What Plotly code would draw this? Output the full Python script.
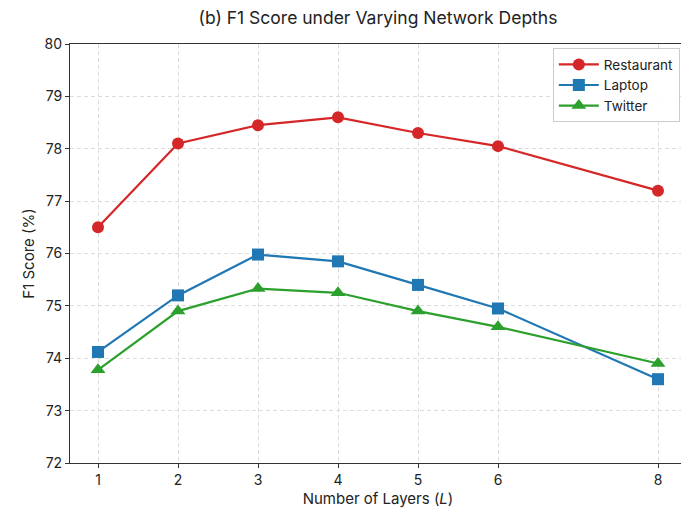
import plotly.graph_objects as go

layers = [1, 2, 3, 4, 5, 6, 8]
restaurant = [76.5, 78.1, 78.45, 78.6, 78.3, 78.05, 77.2]
laptop = [74.12, 75.2, 75.98, 75.85, 75.4, 74.95, 73.6]
twitter = [73.78, 74.9, 75.33, 75.25, 74.9, 74.6, 73.9]

series = [
    ("Restaurant", restaurant, "#d62728", "circle", 12),
    ("Laptop", laptop, "#1f77b4", "square", 12),
    ("Twitter", twitter, "#2ca02c", "triangle-up", 13),
]

fig = go.Figure()
for name, vals, color, sym, sz in series:
    fig.add_trace(go.Scatter(
        x=layers, y=vals, name=name, mode="lines+markers",
        line=dict(color=color, width=2.2),
        marker=dict(symbol=sym, size=sz, color=color, line=dict(width=0)),
    ))

font = "Inter, Open Sans, sans-serif"
fig.update_layout(
    width=681, height=506,
    margin=dict(l=62, r=3, t=36, b=51),
    paper_bgcolor="white", plot_bgcolor="white",
    font=dict(family=font, size=14, color="#222"),
    title=dict(text="(b) F1 Score under Varying Network Depths", x=0.5, xref="paper",
               xanchor="center", y=0.993, yref="container", yanchor="top",
               pad=dict(t=0, b=0, l=0, r=0),
               font=dict(size=17.5, color="#222")),
    legend=dict(x=0.99, y=0.99, xanchor="right", yanchor="top",
                bordercolor="#cccccc", borderwidth=1, bgcolor="rgba(255,255,255,0.9)",
                font=dict(size=13.5), itemwidth=40, tracegroupgap=0),
)
fig.update_xaxes(
    range=[0.65, 8.35], tickvals=layers, ticktext=[str(v) for v in layers],
    showline=True, linecolor="#333", linewidth=1.2, mirror=True,
    ticks="outside", ticklen=4, tickcolor="#333",
    showgrid=True, gridcolor="#dcdcdc", griddash="4px,3px", gridwidth=1,
    zeroline=False, tickfont=dict(size=14), automargin=False,
    title=dict(text="Number of Layers (<i>L</i>)", font=dict(size=15), standoff=6),
)
fig.update_yaxes(
    range=[72, 80], dtick=1,
    showline=True, linecolor="#333", linewidth=1.2, mirror=True,
    ticks="outside", ticklen=4, tickcolor="#333",
    showgrid=True, gridcolor="#dcdcdc", griddash="4px,3px", gridwidth=1,
    zeroline=False, tickfont=dict(size=14), automargin=False,
    title=dict(text="F1 Score (%)", font=dict(size=15), standoff=6),
)
fig.write_html("out.html")
